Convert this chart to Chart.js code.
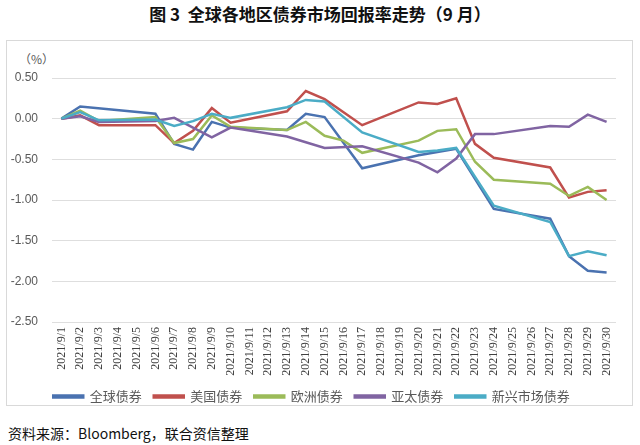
<!DOCTYPE html>
<html>
<head>
<meta charset="utf-8">
<script src="https://cdn.jsdelivr.net/npm/chart.js@4/dist/chart.umd.min.js"></script>
<style>
  body { margin: 0; background: #fff; width: 640px; height: 445px; position: relative; overflow: hidden; }
  #title { position: absolute; top: 1px; left: 0; width: 640px; text-align: center; font: bold 17px "Noto Sans CJK SC", sans-serif; color: #111; }
  #frame { position: absolute; left: 6px; top: 40px; width: 627px; height: 366px; border: 1px solid #d9d9d9; box-sizing: border-box; }
  #unit { position: absolute; left: 19px; top: 50px; font: 12px "Noto Sans CJK SC", sans-serif; color: #595959; }
  #chart { position: absolute; left: 7px; top: 41px; }
  #source { position: absolute; left: 8px; top: 423px; font: 14px "Noto Sans CJK SC", sans-serif; color: #111; }
</style>
</head>
<body>
<div id="title">图 3&nbsp; 全球各地区债券市场回报率走势（9 月）</div>
<div id="frame"></div>
<div id="unit">（%）</div>
<canvas id="chart" width="625" height="372"></canvas>
<div id="source">资料来源：Bloomberg，联合资信整理</div>
<script>
// categories (null = no trading value, line is spanned)
const dates = [
  "2021/9/1", "2021/9/2", "2021/9/3", "2021/9/4", "2021/9/5", "2021/9/6",
  "2021/9/7", "2021/9/8", "2021/9/9", "2021/9/10", "2021/9/11", "2021/9/12",
  "2021/9/13", "2021/9/14", "2021/9/15", "2021/9/16", "2021/9/17", "2021/9/18",
  "2021/9/19", "2021/9/20", "2021/9/21", "2021/9/22", "2021/9/23", "2021/9/24",
  "2021/9/25", "2021/9/26", "2021/9/27", "2021/9/28", "2021/9/29", "2021/9/30"
];

const globalBonds = [0, 0.15, null, null, null, 0.06, -0.31, -0.38, -0.04, -0.11, null, null, -0.14, 0.06, 0.02, null, -0.61, null, null, -0.45, -0.41, -0.37, null, -1.11, null, null, -1.23, -1.69, -1.87, -1.89];
const usBonds = [0, 0.04, -0.08, null, null, -0.08, -0.30, -0.15, 0.13, -0.05, null, null, 0.09, 0.34, 0.24, null, -0.08, null, null, 0.20, 0.18, 0.25, -0.31, -0.48, null, null, -0.60, -0.97, -0.90, -0.88];
const europeBonds = [0, 0.10, -0.03, null, null, 0.02, -0.30, -0.25, 0.04, -0.10, null, null, -0.14, -0.04, -0.21, -0.27, -0.42, null, null, -0.27, -0.15, -0.13, -0.53, -0.75, null, null, -0.80, -0.95, -0.84, -1.00];
const asiaBonds = [0, 0.03, -0.04, null, null, -0.03, 0.01, -0.11, -0.23, -0.11, null, null, -0.22, -0.29, -0.36, null, -0.34, null, null, -0.54, -0.66, -0.49, -0.19, -0.19, null, null, -0.09, -0.10, 0.05, -0.04];
const emBonds = [0, 0.08, -0.02, null, null, -0.01, -0.09, -0.03, 0.06, 0.01, null, null, 0.14, 0.23, 0.21, null, -0.17, null, null, -0.41, -0.39, -0.36, null, -1.07, null, null, -1.27, -1.69, -1.63, -1.68];

const seriesNames = ["全球债券", "美国债券", "欧洲债券", "亚太债券", "新兴市场债券"];
const seriesData = [globalBonds, usBonds, europeBonds, asiaBonds, emBonds];
const seriesColors = ["#4A72B0", "#C0504D", "#9BBB59", "#8064A2", "#4BACC6"];

const datasets = seriesNames.map((name, i) => ({
  label: name,
  data: seriesData[i],
  borderColor: seriesColors[i],
  backgroundColor: seriesColors[i],
  borderWidth: 2.5,
  pointRadius: 0,
  tension: 0,
  spanGaps: true,
  order: seriesNames.length - i, // later series drawn on top, like Excel
}));

const ctx = document.getElementById("chart").getContext("2d");
new Chart(ctx, {
  type: "line",
  data: { labels: dates, datasets: datasets },
  options: {
    responsive: false,
    animation: false,
    devicePixelRatio: 1,
    layout: { padding: { top: 37, right: 16, left: 0, bottom: 0 } },
    plugins: {
      title: { display: false },
      tooltip: { enabled: false },
      legend: {
        position: "bottom",
        labels: {
          boxWidth: 30,
          boxHeight: 2,
          padding: 12,
          color: "#595959",
          font: { family: "Noto Sans CJK SC", size: 13 },
          sort: (a, b) => a.datasetIndex - b.datasetIndex,
        },
      },
    },
    scales: {
      x: {
        offset: true,
        grid: { display: false, drawTicks: false },
        border: { display: false },
        ticks: {
          autoSkip: false,
          minRotation: 90,
          maxRotation: 90,
          padding: 5,
          color: "#404040",
          font: { family: "Liberation Serif", size: 12 },
        },
        afterFit: (s) => { s.height = 56; },
      },
      y: {
        min: -2.5,
        max: 0.5,
        grid: { color: "#dedede", lineWidth: 1, drawTicks: false },
        border: { display: false },
        ticks: {
          stepSize: 0.5,
          padding: 14,
          color: "#595959",
          font: { family: "Liberation Sans", size: 12 },
          callback: (v) => v.toFixed(2),
        },
        afterFit: (s) => { s.width = 45; },
      },
    },
  },
});
</script>
</body>
</html>
